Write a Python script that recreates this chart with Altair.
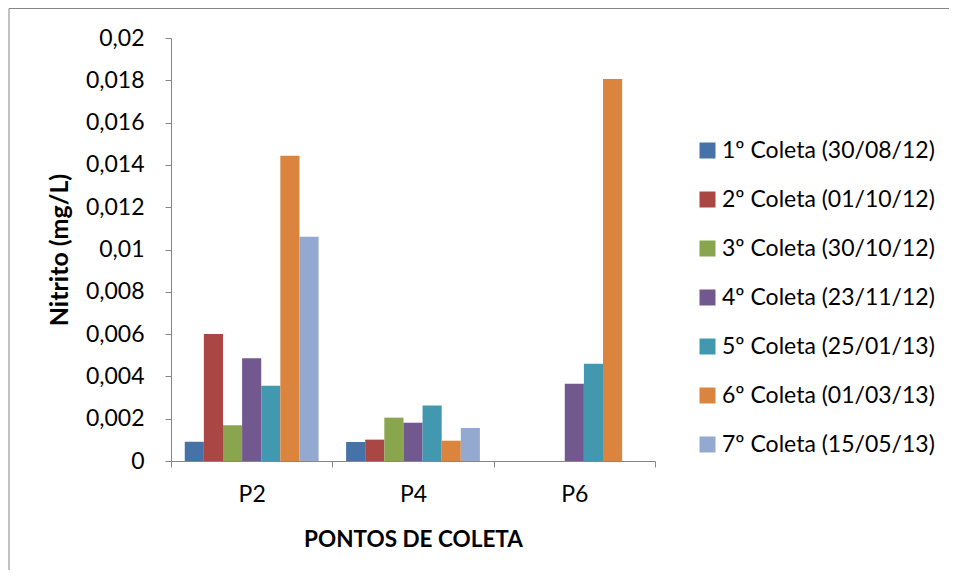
import altair as alt
import pandas as pd

pontos = ["P2", "P4", "P6"]
coletas = [
    "1º Coleta (30/08/12)",
    "2º Coleta (01/10/12)",
    "3º Coleta (30/10/12)",
    "4º Coleta (23/11/12)",
    "5º Coleta (25/01/13)",
    "6º Coleta (01/03/13)",
    "7º Coleta (15/05/13)",
]
c1 = [0.00091, 0.00090, None]
c2 = [0.00600, 0.00101, None]
c3 = [0.00169, 0.00205, None]
c4 = [0.00486, 0.00181, 0.00365]
c5 = [0.00356, 0.00263, 0.00460]
c6 = [0.01443, 0.00096, 0.01806]
c7 = [0.01060, 0.00156, None]
series = [c1, c2, c3, c4, c5, c6, c7]
cores = ["#4572A7", "#AA4643", "#89A54E", "#71588F", "#4198AF", "#DB843D", "#93A9CF"]
y_ticks = [0, 0.002, 0.004, 0.006, 0.008, 0.01, 0.012, 0.014, 0.016, 0.018, 0.02]

rows = []
for nome, vals in zip(coletas, series):
    for p, v in zip(pontos, vals):
        rows.append({"ponto": p, "coleta": nome, "valor": v})
df = pd.DataFrame(rows)

GRAY = "#868686"
FONT = "Lato"

bars = alt.Chart(df).mark_bar().encode(
    x=alt.X(
        "ponto:N",
        sort=pontos,
        scale=alt.Scale(domain=pontos, paddingInner=0, paddingOuter=0),
        axis=alt.Axis(
            title="PONTOS DE COLETA",
            labelAngle=0,
            tickBand="extent",
            labelPadding=16,
            titlePadding=22,
            titleFontSize=22.5,
        ),
    ),
    xOffset=alt.XOffset(
        "coleta:N",
        scale=alt.Scale(domain=coletas, paddingInner=0, paddingOuter=0.72),
    ),
    y=alt.Y(
        "valor:Q",
        scale=alt.Scale(domain=[0, 0.02], nice=False),
        axis=alt.Axis(
            title="Nitrito (mg/L)",
            values=y_ticks,
            labelExpr="replace(format(datum.value, '.3~f'), '.', ',')",
            labelPadding=21,
            titlePadding=13,
            titleFontSize=25,
        ),
    ),
    color=alt.Color(
        "coleta:N",
        scale=alt.Scale(domain=coletas, range=cores),
        legend=alt.Legend(
            title=None,
            orient="none",
            legendX=525,
            legendY=101,
            symbolType="square",
            symbolSize=256,
            symbolStrokeWidth=0,
            labelFontSize=23,
            labelFont=FONT,
            labelColor="#000000",
            labelOffset=3,
            labelLimit=0,
            rowPadding=25,
        ),
    ),
)

dummy = pd.DataFrame({"a": [0]})
frame_left = alt.Chart(dummy).mark_rule(color=GRAY, strokeWidth=1).encode(
    x=alt.value(-162), y=alt.value(-29.5), y2=alt.value(700)
)
frame_top = alt.Chart(dummy).mark_rule(color=GRAY, strokeWidth=1).encode(
    x=alt.value(-162), x2=alt.value(1000), y=alt.value(-29.5)
)

chart = (
    alt.layer(frame_left, frame_top, bars)
    .properties(
        width=484,
        height=423,
        autosize="none",
        padding={"left": 163, "top": 30, "right": 294, "bottom": 109},
    )
    .configure_view(stroke=None)
    .configure_axis(
        grid=False,
        domainColor=GRAY,
        tickColor=GRAY,
        tickSize=6,
        labelFont=FONT,
        labelFontSize=23,
        labelColor="#000000",
        titleFont=FONT,
        titleFontSize=22,
        titleFontWeight="bold",
        titleColor="#000000",
    )
)

chart.save("out.html", embed_options={"renderer": "svg", "actions": False})
